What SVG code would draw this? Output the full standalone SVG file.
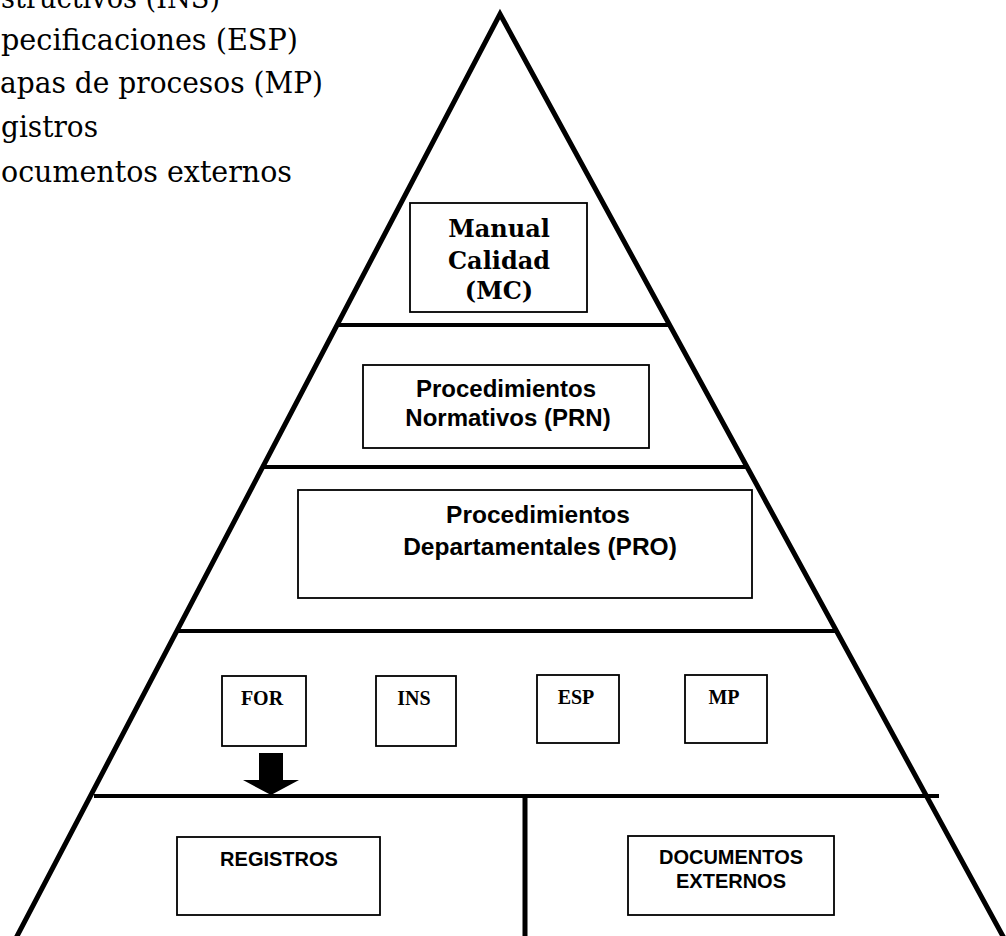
<svg xmlns="http://www.w3.org/2000/svg" width="1006" height="936" viewBox="0 0 1006 936">
  <style>
    .side { stroke: #000; stroke-width: 5; fill: none; stroke-linecap: butt; }
    .band { stroke: #000; stroke-width: 4; fill: none; }
    .box { stroke: #000; stroke-width: 1.8; fill: #fff; }
    .list { font-family: "DejaVu Serif", "Liberation Serif", serif; font-size: 29px; fill: #000; }
    .mc { font-family: "DejaVu Serif", "Liberation Serif", serif; font-size: 24px; font-weight: bold; fill: #000; text-anchor: middle; }
    .sans { font-family: "Liberation Sans", Arial, sans-serif; font-weight: bold; fill: #000; text-anchor: middle; }
    .ser { font-family: "Liberation Serif", "Times New Roman", serif; font-size: 20px; font-weight: bold; fill: #000; text-anchor: middle; }
  </style>
  <rect width="1006" height="936" fill="#fff"/>

  <g id="legend">
    <text class="list" x="1" y="8" textLength="219" lengthAdjust="spacingAndGlyphs">structivos (INS)</text>
    <text class="list" x="1" y="50" textLength="297" lengthAdjust="spacingAndGlyphs">pecificaciones (ESP)</text>
    <text class="list" x="0" y="93" textLength="323" lengthAdjust="spacingAndGlyphs">apas de procesos (MP)</text>
    <text class="list" x="1" y="137" textLength="97" lengthAdjust="spacingAndGlyphs">gistros</text>
    <text class="list" x="1" y="182" textLength="291" lengthAdjust="spacingAndGlyphs">ocumentos externos</text>
  </g>

  <g id="pyramid">
    <polyline class="side" points="15,940 500,14 1005,940" stroke-linejoin="miter"/>
    <line class="band" x1="336" y1="325" x2="670" y2="325"/>
    <line class="band" x1="262" y1="467" x2="748" y2="467"/>
    <line class="band" x1="175" y1="631" x2="837" y2="631"/>
    <line class="band" x1="94" y1="796" x2="939" y2="796"/>
    <line class="side" x1="525" y1="796" x2="525" y2="936"/>
  </g>

  <g id="node-mc">
    <rect class="box" x="410" y="203" width="177" height="109"/>
    <text class="mc" x="499" y="237">Manual</text>
    <text class="mc" x="499" y="269">Calidad</text>
    <text class="mc" x="499" y="299">(MC)</text>
  </g>

  <g id="node-prn">
    <rect class="box" x="363" y="365" width="286" height="83"/>
    <text class="sans" x="506" y="397" font-size="24">Procedimientos</text>
    <text class="sans" x="508" y="426" font-size="24">Normativos (PRN)</text>
  </g>

  <g id="node-pro">
    <rect class="box" x="298" y="490" width="454" height="108"/>
    <text class="sans" x="538" y="523" font-size="24.5">Procedimientos</text>
    <text class="sans" x="540" y="555" font-size="24.5">Departamentales (PRO)</text>
  </g>

  <g id="node-for">
    <rect class="box" x="222" y="676" width="84" height="70"/>
    <text class="ser" x="262" y="705">FOR</text>
  </g>
  <g id="node-ins">
    <rect class="box" x="376" y="676" width="80" height="70"/>
    <text class="ser" x="414" y="705">INS</text>
  </g>
  <g id="node-esp">
    <rect class="box" x="537" y="675" width="82" height="68"/>
    <text class="ser" x="576" y="704">ESP</text>
  </g>
  <g id="node-mp">
    <rect class="box" x="685" y="675" width="82" height="68"/>
    <text class="ser" x="724" y="704">MP</text>
  </g>

  <g id="node-registros">
    <rect class="box" x="177" y="837" width="203" height="78"/>
    <text class="sans" x="279" y="866" font-size="20">REGISTROS</text>
  </g>
  <g id="node-docext">
    <rect class="box" x="628" y="836" width="206" height="79"/>
    <text class="sans" x="731" y="864" font-size="20">DOCUMENTOS</text>
    <text class="sans" x="731" y="888" font-size="20">EXTERNOS</text>
  </g>

  <g id="connectors">
    <polygon points="259,753 283,753 283,780 299,780 271,795 243,780 259,780" fill="#000"/>
  </g>
</svg>
